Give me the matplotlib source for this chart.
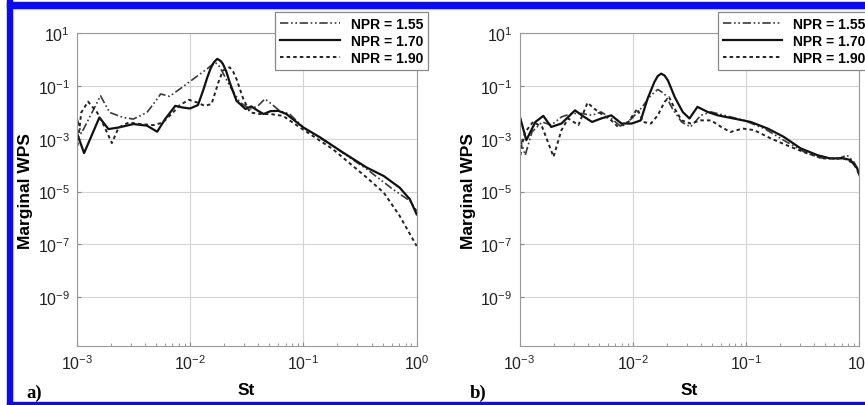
import numpy as np
import matplotlib.pyplot as plt
from matplotlib.patches import Rectangle

plt.rcParams['font.family'] = ['Liberation Sans', 'DejaVu Sans']
plt.rcParams['mathtext.fontset'] = 'custom'
plt.rcParams['mathtext.rm'] = 'Liberation Sans'
plt.rcParams['mathtext.it'] = 'Liberation Sans:italic'
plt.rcParams['mathtext.bf'] = 'Liberation Sans:bold'

labels = ['NPR = 1.55', 'NPR = 1.70', 'NPR = 1.90']

# log10(St), log10(marginal WPS) -- case a)
a155_st = [-3.0, -2.96, -2.79, -2.71, -2.59, -2.5, -2.38, -2.29, -2.26, -2.18, -2.09, -1.97,
           -1.85, -1.78, -1.75, -1.72, -1.65, -1.56, -1.47, -1.4, -1.34, -1.28, -1.21, -1.12,
           -1.0, -0.74, -0.44, -0.21, -0.06, 0.0]
a155_w = [-2.19, -2.8, -1.37, -2.0, -2.19, -2.25, -2.0, -1.49, -1.3, -1.39, -1.11, -0.73,
          -0.35, -0.1, -0.2, -0.42, -0.99, -1.62, -1.87, -1.75, -1.49, -1.68, -1.94, -2.06,
          -2.57, -3.27, -4.15, -4.91, -5.35, -5.73]

a170_st = [-3.0, -2.935, -2.8, -2.72, -2.63, -2.5, -2.38, -2.29, -2.22, -2.13, -2.07, -2.0,
           -1.93, -1.88, -1.85, -1.82, -1.79, -1.76, -1.73, -1.71, -1.68, -1.65, -1.59, -1.51,
           -1.46, -1.4, -1.35, -1.29, -1.22, -1.15, -1.0, -0.85, -0.65, -0.44, -0.29, -0.15,
           -0.06, 0.0]
a170_w = [-2.76, -3.54, -2.19, -2.63, -2.57, -2.44, -2.5, -2.73, -2.25, -1.75, -1.81, -1.85,
          -1.72, -1.11, -0.7, -0.35, -0.1, 0.03, -0.05, -0.16, -0.45, -0.86, -1.56, -1.87,
          -1.77, -1.94, -2.06, -1.95, -1.94, -2.06, -2.57, -2.95, -3.52, -4.09, -4.41, -4.85,
          -5.29, -5.86]

a190_st = [-3.0, -2.96, -2.9, -2.82, -2.76, -2.69, -2.63, -2.54, -2.44, -2.32, -2.24, -2.15,
           -2.09, -2.01, -1.94, -1.87, -1.81, -1.75, -1.71, -1.68, -1.65, -1.62, -1.59, -1.53,
           -1.47, -1.38, -1.29, -1.18, -1.03, -0.74, -0.44, -0.29, -0.15, 0.0]
a190_w = [-3.52, -2.0, -1.59, -2.0, -2.5, -3.16, -2.57, -2.38, -2.44, -2.48, -2.38, -2.0,
          -1.72, -1.52, -1.62, -1.75, -1.68, -0.86, -0.42, -0.33, -0.29, -0.45, -0.73, -1.49,
          -2.0, -2.06, -2.06, -2.13, -2.57, -3.39, -4.47, -5.04, -5.92, -7.06]

# case b)
b155_st = [-3.0, -2.95, -2.89, -2.8, -2.72, -2.63, -2.54, -2.45, -2.36, -2.28, -2.19, -2.1,
           -2.01, -1.93, -1.84, -1.78, -1.72, -1.65, -1.57, -1.49, -1.4, -1.31, -1.19, -1.02,
           -0.84, -0.67, -0.49, -0.35, -0.2, -0.11, -0.05, 0.0]
b155_w = [-2.92, -3.62, -2.74, -2.36, -2.48, -2.17, -2.04, -2.04, -2.11, -1.98, -2.23, -2.55,
          -2.23, -1.86, -1.35, -1.13, -1.29, -1.86, -2.36, -2.55, -2.11, -1.98, -2.11, -2.3,
          -2.61, -3.05, -3.49, -3.72, -3.77, -3.62, -3.87, -4.25]

b170_st = [-3.0, -2.94, -2.86, -2.79, -2.72, -2.63, -2.51, -2.45, -2.36, -2.28, -2.19, -2.1,
           -2.01, -1.93, -1.87, -1.81, -1.78, -1.75, -1.72, -1.69, -1.63, -1.56, -1.5, -1.43,
           -1.34, -1.25, -1.11, -0.96, -0.81, -0.67, -0.52, -0.37, -0.26, -0.14, -0.08, -0.02,
           0.0]
b170_w = [-2.11, -3.05, -2.36, -2.13, -2.55, -2.42, -1.92, -2.11, -2.36, -2.23, -2.11, -2.42,
          -2.42, -2.3, -1.48, -0.85, -0.62, -0.53, -0.6, -0.79, -1.42, -1.98, -2.23, -1.79,
          -1.98, -2.11, -2.23, -2.36, -2.61, -2.92, -3.36, -3.62, -3.74, -3.74, -3.8, -4.12,
          -4.37]

b190_st = [-3.0, -2.98, -2.95, -2.88, -2.8, -2.7, -2.63, -2.57, -2.48, -2.4, -2.34, -2.26,
           -2.19, -2.13, -2.04, -1.96, -1.91, -1.84, -1.78, -1.72, -1.68, -1.63, -1.57, -1.49,
           -1.4, -1.31, -1.22, -1.14, -1.03, -0.93, -0.78, -0.61, -0.46, -0.32, -0.14, -0.05, 0.0]
b190_w = [-3.87, -3.24, -2.74, -2.36, -2.55, -3.68, -2.67, -2.23, -2.48, -1.63, -1.86, -2.11,
          -2.3, -2.55, -2.36, -1.86, -2.36, -2.42, -2.11, -1.6, -1.42, -1.86, -2.3, -2.42,
          -2.3, -2.3, -2.55, -2.74, -2.61, -2.67, -2.99, -3.3, -3.55, -3.74, -3.74, -3.93, -4.37]

styles = [dict(color='#3a3a3a', lw=1.2, ls=(0, (5, 1.6, 1, 1.6, 1, 1.6))),
          dict(color='#111111', lw=1.6, ls='-'),
          dict(color='#222222', lw=1.4, ls=(0, (1.8, 1.6)))]

panels = [
    ('a)', [(a155_st, a155_w), (a170_st, a170_w), (a190_st, a190_w)]),
    ('b)', [(b155_st, b155_w), (b170_st, b170_w), (b190_st, b190_w)]),
]

fig = plt.figure(figsize=(8.65, 4.06), dpi=100)
lefts = [0.0887, 0.6006]

for left, (tag, series) in zip(lefts, panels):
    ax = fig.add_axes([left, 0.1446, 0.393, 0.771])
    for (st, w), lab, sty in zip(series, labels, styles):
        ax.plot(10 ** np.array(st), 10 ** np.array(w), label=lab, **sty)
    ax.set_xscale('log')
    ax.set_yscale('log')
    ax.set_xlim(1e-3, 1)
    ax.set_ylim(10 ** -10.86, 10)
    ax.set_xticks([1e-3, 1e-2, 1e-1, 1])
    ax.set_yticks([1e1, 1e-1, 1e-3, 1e-5, 1e-7, 1e-9])
    ax.yaxis.set_minor_locator(plt.NullLocator())
    ax.grid(True, which='major', color='#d4d4d4', lw=0.8)
    ax.tick_params(which='both', direction='in', colors='#888888', labelcolor='#222222',
                   labelsize=11.5, top=False, right=False)
    ax.tick_params(which='major', length=3, pad=5)
    ax.tick_params(which='minor', length=2)
    for sp in ax.spines.values():
        sp.set_color('#999999')
        sp.set_linewidth(0.8)
    ax.set_xlabel('St', fontsize=12.5, fontweight='bold', labelpad=7)
    ax.set_ylabel('Marginal WPS', fontsize=12.5, fontweight='bold', labelpad=3)
    leg = ax.legend(loc='upper right', bbox_to_anchor=(1.033, 1.068), borderaxespad=0,
                    fancybox=False, framealpha=1, edgecolor='#888888', handlelength=4.3,
                    handletextpad=0.8, labelspacing=0.22, borderpad=0.35,
                    prop=dict(size=10, weight='bold'))
    leg.get_frame().set_linewidth(0.9)
    fig.text(left - 0.058, 0.032, tag, fontsize=13.5, fontweight='bold',
             family='Liberation Serif', va='center', ha='left')

# blue frame around the figure (left, top and bottom edges)
blue = '#0a0af5'
fig.patches.append(Rectangle((7 / 865, 0), 5 / 865, 1, transform=fig.transFigure,
                             color=blue, zorder=10))
fig.patches.append(Rectangle((7 / 865, 1 - 9 / 406), 1, 6 / 406, transform=fig.transFigure,
                             color=blue, zorder=10))
fig.patches.append(Rectangle((7 / 865, 0), 1, 3 / 406, transform=fig.transFigure,
                             color=blue, zorder=10))

fig.savefig('out.png', dpi=100)
